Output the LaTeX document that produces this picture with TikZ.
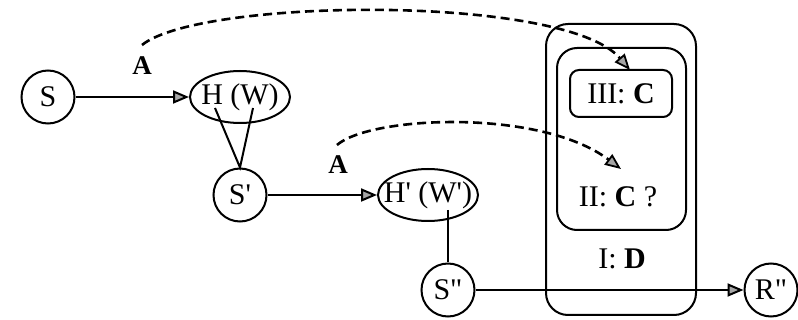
\documentclass[tikz,border=0pt]{standalone}
\usepackage{fontspec}
\setmainfont{Liberation Serif}
\usetikzlibrary{arrows.meta,shapes.geometric}
\begin{document}
\begin{tikzpicture}[x=1pt,y=-1pt,line width=2pt,
  every node/.style={font=\fontsize{30}{33}\selectfont},
  circ/.style={circle,draw,minimum size=53pt,inner sep=0pt},
  ell/.style={ellipse,draw,minimum width=100pt,minimum height=52pt,inner sep=0pt},
  tipa/.style={-{Triangle[length=16pt,width=13pt,fill=gray!70]}},
  dasharrow/.style={dash pattern=on 9pt off 5pt,line width=2.6pt,
     -{Triangle[length=16pt,width=13pt,fill=gray!70,line width=1.8pt]}},
  rbox/.style={draw,rounded corners=#1,inner sep=0pt},
  lab/.style={font=\fontsize{27}{30}\selectfont\bfseries}
]
\useasboundingbox (0,0) rectangle (798,320);
% containers
\node[rbox=22pt,minimum width=150pt,minimum height=291pt] (boxI) at (621,169.5) {};
\node[rbox=20pt,minimum width=129pt,minimum height=182pt] (boxII) at (621.5,139) {};
\node[rbox=9pt,minimum width=102pt,minimum height=47pt] (boxIII) at (621,93.5) {III: \textbf{C}};
\node (tII) at (618,197) {II: \textbf{C} ?};
\node (tI) at (622,259) {I: \textbf{D}};
% nodes
\node[circ] (S) at (48,97) {S};
\node[ell] (HW) at (240,97) {\makebox[0pt]{H (W)}};
\node[circ] (Sp) at (240,195) {S\textquotesingle};
\node[ell] (HpWp) at (428,195) {\makebox[0pt]{H\textquotesingle{} (W\textquotesingle)}};
\node[circ] (Spp) at (448,290) {S\textquotedbl};
\node[circ] (Rpp) at (771,290) {R\textquotedbl};
% labels
\node[lab] (A1) at (142,66) {A};
\node[lab] (A2) at (338,165) {A};
% helper coordinates
\coordinate (hw1) at (215,108);
\coordinate (hw2) at (253,108);
\coordinate (hpw) at (448,210);
\coordinate (a1s) at (142,45);
\coordinate (a1e) at (630,70);
\coordinate (a2s) at (337,145);
\coordinate (a2e) at (621,169);
% connectors
\draw[tipa] (S) -- (HW);
\draw (hw1) -- (Sp.north) -- (hw2);
\draw[tipa] (Sp) -- (HpWp);
\draw (hpw) -- (Spp.north);
\draw[tipa] (Spp) -- (Rpp);
\draw[dasharrow] (a1s) .. controls (200,-2) and (565,-6) .. (a1e);
\draw[dasharrow] (a2s) .. controls (370,116) and (540,108) .. (a2e);
\end{tikzpicture}
\end{document}
